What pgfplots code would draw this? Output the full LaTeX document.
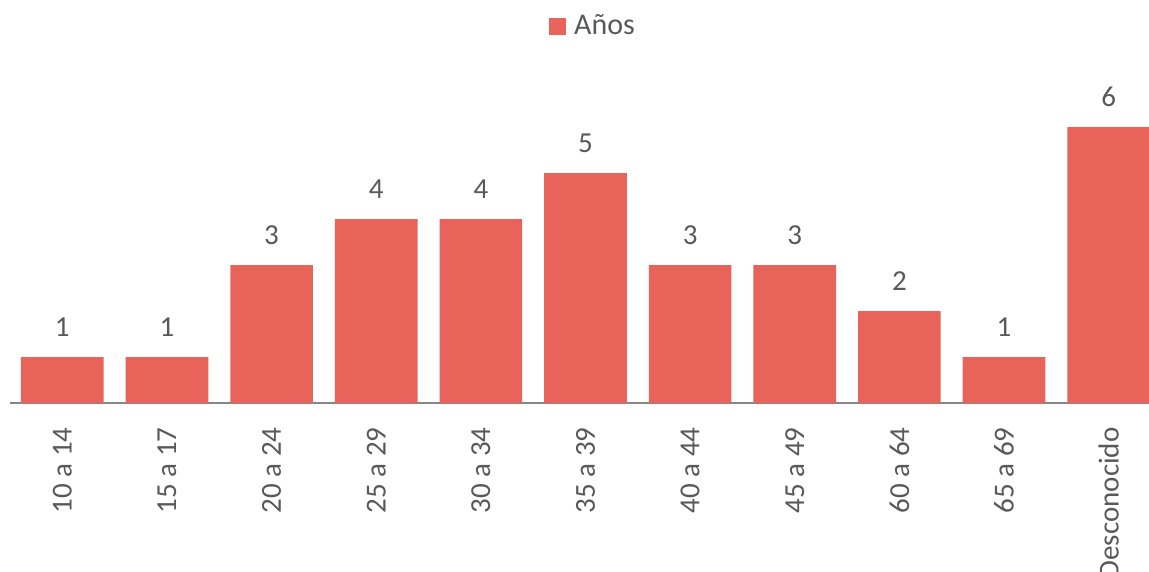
\documentclass[border=0pt]{standalone}
\usepackage{pgfplots}
\pgfplotsset{compat=1.18}
\usepackage{fontspec}
\setmainfont{Carlito}
\definecolor{barred}{HTML}{E8645A}
\definecolor{txtgray}{HTML}{595959}
\definecolor{axgray}{HTML}{868686}
\begin{document}
\fontsize{29}{34}\selectfont
\begin{tikzpicture}[x=1pt,y=1pt]
\useasboundingbox (0,0) rectangle (1149,571);
\begin{axis}[
  at={(10pt,168pt)}, anchor=south west,
  scale only axis, width=1151pt, height=322pt,
  xmin=-0.5, xmax=10.5, ymin=0, ymax=7,
  ybar, bar width=0.79,
  axis x line*=bottom, axis y line=none,
  x axis line style={axgray, line width=1.5pt, -},
  xtick=data, xtick style={draw=none},
  xticklabels={10 a 14,15 a 17,20 a 24,25 a 29,30 a 34,35 a 39,40 a 44,45 a 49,60 a 64,65 a 69,Desconocido},
  xticklabel style={rotate=90, anchor=east, inner sep=0pt, text=txtgray, font=\fontsize{29}{34}\selectfont},
  xticklabel shift=20pt,
  ytick=\empty,
  nodes near coords,
  nodes near coords style={text=txtgray, inner sep=0pt, anchor=south, yshift=20pt, font=\fontsize{29}{34}\selectfont},
  /pgf/number format/assume math mode=true,
  legend style={at={(0.5057,1.168)}, anchor=center, draw=none, fill=none, text=txtgray, inner sep=0pt,
     nodes={inner sep=0pt}, font=\fontsize{30}{35}\selectfont},
  legend image code/.code={\fill[barred] (0pt,-8.5pt) rectangle (17pt,8.5pt); \path (25pt,0pt);},
  clip=false,
]
\addplot[fill=barred, draw=none] coordinates {
(0,1) (1,1) (2,3) (3,4) (4,4) (5,5) (6,3) (7,3) (8,2) (9,1) (10,6)
};
\addlegendentry{Años}
\end{axis}
\end{tikzpicture}
\end{document}
